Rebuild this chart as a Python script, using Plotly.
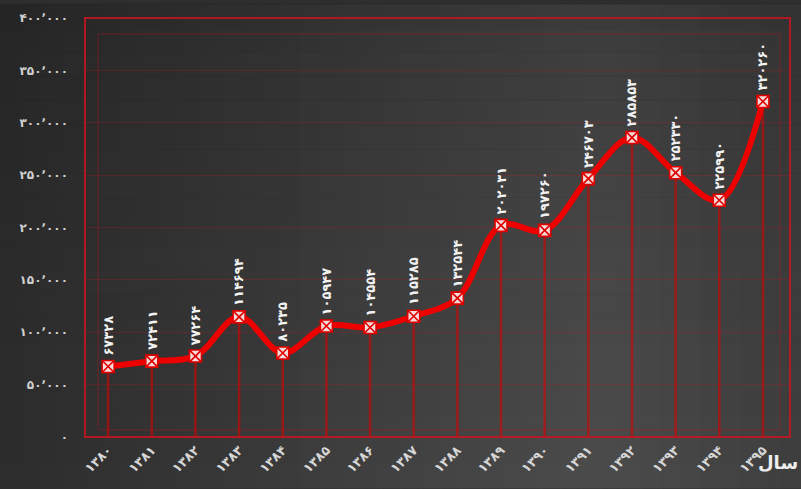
import plotly.graph_objects as go

# Yearly figures (solar hijri years)
years = [1380, 1381, 1382, 1383, 1384, 1385, 1386, 1387,
         1388, 1389, 1390, 1391, 1392, 1393, 1394, 1395]
values = [67328, 72411, 77264, 114694, 80235, 105947, 104554, 115285,
          132544, 202031, 197260, 246703, 285853, 252330, 225990, 320260]
y_ticks = [0, 50000, 100000, 150000, 200000, 250000, 300000, 350000, 400000]

FA = str.maketrans("0123456789", "۰۱۲۳۴۵۶۷۸۹")


def fa(n, sep=False):
    s = f"{n:,}".replace(",", "٬") if sep else str(n)
    return s.translate(FA)


x_text = [f"<b>{fa(y)}</b>" for y in years]
y_text = [f"<b>{fa(v, sep=True) if v else '۰'}</b>" for v in y_ticks]

W, H = 801, 489
ML, MR, MT, MB = 85, 11, 14, 52
PW, PH = W - ML - MR, H - MT - MB

fig = go.Figure()

# thin red drop lines from each point down to the base
dx, dy = [], []
for x, v in zip(years, values):
    dx += [x, x, None]
    dy += [0, v, None]
fig.add_trace(go.Scatter(x=dx, y=dy, mode="lines",
                         line=dict(color="rgba(215,0,0,0.6)", width=2.5),
                         hoverinfo="skip", showlegend=False))

# main curve
fig.add_trace(go.Scatter(
    x=years, y=values, mode="lines+markers",
    line=dict(color="#ec0000", width=6, shape="spline", smoothing=1),
    marker=dict(symbol="square-x", size=12, color="#f6dada",
                line=dict(color="#e00000", width=1.6)),
    showlegend=False))

# value labels above each point
annotations = []
for x, v in zip(years, values):
    annotations.append(dict(x=x, y=v, text=f"<b>{fa(v)}</b>", showarrow=False,
                            textangle=-90, xanchor="center", yanchor="bottom",
                            yshift=9, font=dict(family="DejaVu Sans", size=13,
                                                color="#f2f2f2")))
annotations.append(dict(xref="paper", yref="paper", x=1.014, y=-0.06,
                        text="<b>سال</b>", showarrow=False, xanchor="right",
                        yanchor="middle",
                        font=dict(family="DejaVu Sans", size=18, color="#eeeeee")))

# background shading: dark left edge, lighter middle
shapes = []
NS = 40
x_lo, x_hi = -ML / PW, 1 + MR / PW
y_lo, y_hi = -MB / PH, 1 + MT / PH
for i in range(NS):
    t = (i + 0.5) / NS
    if t < 0.75:
        g = 44 + (76 - 44) * (t / 0.75)
    else:
        g = 76 - (76 - 62) * ((t - 0.75) / 0.25)
    g = int(round(g))
    shapes.append(dict(type="rect", xref="paper", yref="paper", layer="below",
                       x0=x_lo + (x_hi - x_lo) * i / NS,
                       x1=x_lo + (x_hi - x_lo) * (i + 1) / NS + 0.002,
                       y0=y_lo, y1=y_hi, line=dict(width=0),
                       fillcolor=f"rgb({g},{g},{g})"))
NV = 20
for j in range(NV):
    t = (j + 0.5) / NV  # 0 bottom .. 1 top
    a = 0.28 * t ** 1.5
    shapes.append(dict(type="rect", xref="paper", yref="paper", layer="below",
                       x0=x_lo, x1=x_hi,
                       y0=y_lo + (y_hi - y_lo) * j / NV,
                       y1=y_lo + (y_hi - y_lo) * (j + 1) / NV + 0.001,
                       line=dict(width=0), fillcolor=f"rgba(20,20,20,{a:.3f})"))

# red frames around the plotting area
shapes.append(dict(type="rect", xref="paper", yref="paper", x0=0, x1=1, y0=0, y1=1,
                   line=dict(color="rgba(200,20,30,0.85)", width=2)))
shapes.append(dict(type="rect", xref="paper", yref="paper",
                   x0=13 / PW, x1=1 - 10 / PW, y0=7 / PH, y1=1 - 16 / PH,
                   line=dict(color="rgba(190,20,30,0.4)", width=1)))

fig.update_layout(
    width=W, height=H,
    margin=dict(l=ML, r=MR, t=MT, b=MB),
    paper_bgcolor="#2e2e2e", plot_bgcolor="rgba(0,0,0,0)",
    shapes=shapes, annotations=annotations,
    xaxis=dict(range=[1379.47, 1395.62], tickvals=years, ticktext=x_text,
               tickangle=-45, showgrid=False, zeroline=False, showline=False,
               ticks="", ticklabelstandoff=2,
               tickfont=dict(family="DejaVu Sans", size=13, color="#d6d6d6")),
    yaxis=dict(range=[0, 400000], tickvals=y_ticks, ticktext=y_text,
               showgrid=True, gridcolor="rgba(180,25,35,0.28)", gridwidth=1,
               zeroline=False, showline=False, ticks="",
               ticklabelstandoff=16,
               tickfont=dict(family="DejaVu Sans", size=12, color="#d0d0d0")),
)

fig.write_html("out.html")
